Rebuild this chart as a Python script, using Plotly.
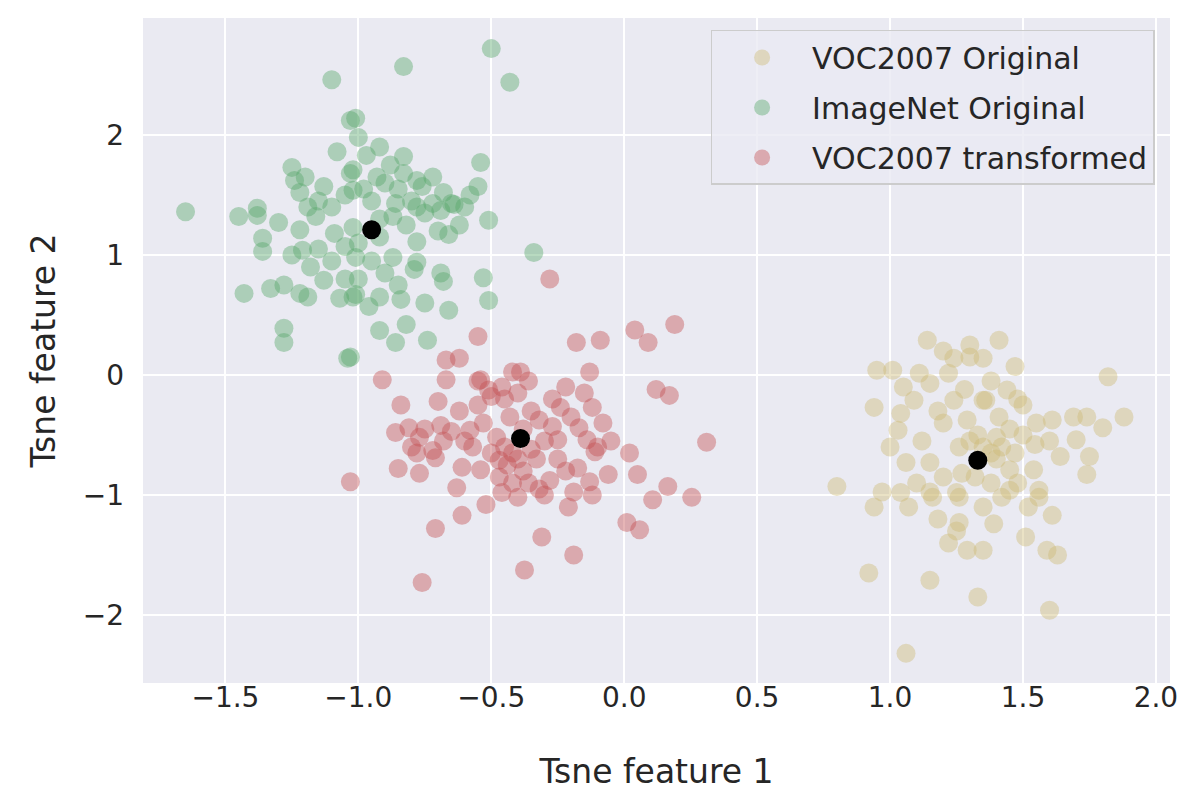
import plotly.graph_objects as go

# ---- data ----
voc_orig_x = [1.14, 0.95, 1.01, 0.94, 1.11, 1.24, 1.30, 1.22, 1.15, 1.09, 1.24, 1.35, 1.04, 1.20, 1.29, 1.03, 1.06, 1.15, 1.26, 1.27,
              0.80, 0.97, 1.04, 1.15, 1.25, 1.41, 1.47, 1.35, 1.82, 1.44, 1.36, 1.41, 1.61, 1.69, 1.74, 1.80, 1.88, 1.40, 1.545, 1.70,
              1.64, 1.75, 1.74, 1.45, 1.54, 1.45, 1.56, 0.94, 1.07, 1.16, 1.26, 1.26, 1.22, 1.29, 1.35, 0.92, 1.15, 1.33, 1.06,
              1.42, 1.56, 1.61, 1.39, 1.51, 1.59, 1.63, 1.60,
              1.35, 1.38, 1.40, 1.33, 1.30, 1.45, 1.50, 1.42, 1.47, 1.32, 1.38, 1.20, 1.12, 1.18, 1.28, 1.38, 1.50, 1.55, 1.60,
              1.48, 1.35, 1.10, 1.00, 1.48, 1.52, 1.25, 1.18, 1.30, 1.20, 1.05]
voc_orig_y = [0.29, 0.04, 0.04, -0.27, 0.015, 0.14, 0.15, 0.015, -0.07, -0.21, -0.21, -0.21, -0.32, -0.40, -0.375, -0.46, -0.73, -0.73, -0.60, -0.82,
              -0.93, -0.975, -0.98, -0.975, -0.98, 0.29, 0.07, 0.14, -0.015, -0.125, -0.21, -0.35, -0.375, -0.35, -0.35, -0.44, -0.35, -0.52, -0.58, -0.54,
              -0.68, -0.68, -0.83, -0.79, -0.79, -0.96, -0.96, -1.10, -1.10, -1.02, -1.02, -1.23, -1.40, -1.46, -1.46, -1.65, -1.71, -1.85, -2.32,
              -1.02, -1.02, -1.17, -1.24, -1.35, -1.46, -1.50, -1.96,
              -0.60, -0.65, -0.70, -0.50, -0.55, -0.45, -0.50, -0.60, -0.65, -0.85, -0.90, -0.85, -0.55, -0.30, -0.12, -0.05, -0.25, -0.40, -0.55,
              -0.90, -1.10, -0.90, -0.60, -0.20, -1.10, -1.30, -1.20, 0.25, 0.20, -0.10]

imagenet_x = [-1.65, -1.45, -1.38, -1.30, -1.36, -1.36, -1.22, -1.19, -1.16, -1.21, -1.09, -1.05, -1.02,
              -1.43, -1.33, -1.28, -1.22, -1.19, -1.13, -1.07, -1.02, -1.28, -1.28, -1.04,
              -1.10, -1.03, -1.08, -1.25, -1.24, -1.22, -1.13, -1.03, -1.02, -1.38,
              -0.83, -0.50, -0.43, -0.54, -0.55, -1.01, -1.00, -0.92, -0.97, -0.83, -0.93, -0.78, -0.76, -0.68, -1.02, -0.83,
              -0.86, -0.72, -0.65,
              -0.87, -0.78, -0.69, -0.64, -0.51, -0.66, -0.78, -0.87, -0.78, -0.79, -0.69, -0.68, -1.01, -1.01, -0.92, -0.84,
              -0.96, -0.66, -0.53, -0.51, -0.34, -0.92, -0.82, -0.86, -0.74, -1.03,
              -1.20, -1.15, -1.10, -1.05, -0.98, -0.95, -0.92, -0.90, -0.88, -0.85, -0.82, -0.80, -0.75, -0.72, -0.70, -0.60,
              -0.58, -0.62, -1.15, -1.10, -1.00, -0.95, -0.90, -0.85, -0.75, -0.92, -1.05, -1.18, -1.25, -1.00]
imagenet_y = [1.36, 1.32, 1.33, 1.27, 1.14, 1.03, 1.21, 1.40, 1.32, 1.04, 1.18, 1.07, 1.23,
              0.68, 0.72, 0.75, 0.68, 0.65, 0.79, 0.64, 0.65, 0.39, 0.27, 0.14,
              2.46, 2.12, 1.86, 1.73, 1.62, 1.52, 1.57, 1.68, 1.54, 1.39,
              2.57, 2.72, 2.44, 1.77, 1.57, 2.14, 1.98, 1.90, 1.83, 1.82, 1.65, 1.62, 1.57, 1.52, 1.71, 1.68,
              1.43, 1.43, 1.43,
              1.32, 1.40, 1.37, 1.42, 1.29, 1.17, 1.11, 0.98, 0.94, 0.88, 0.85, 0.78, 0.98, 0.67, 0.65, 0.63,
              0.57, 0.54, 0.81, 0.62, 1.02, 0.37, 0.42, 0.27, 0.29, 0.15,
              1.65, 1.45, 1.40, 1.50, 1.55, 1.45, 1.30, 1.60, 1.75, 1.55, 1.25, 1.45, 1.35, 1.65, 1.20, 1.40,
              1.50, 1.25, 1.05, 0.95, 1.10, 0.95, 0.85, 0.75, 0.60, 1.15, 0.80, 0.90, 1.00, 0.80]

voc_trans_x = [-0.28, -0.55, -0.67, -0.62, -0.91, -0.84, -0.67, -0.54, -0.51, -0.46, -0.42, -0.50, -0.86, -0.81, -0.77, -0.69, -0.65, -0.58, -0.53, -0.48,
               -0.80, -0.72, -0.18, -0.09, 0.04, 0.09, 0.19, -0.13, -0.39, -0.22, 0.17, -0.12, -0.24, -0.32, -0.27, -0.17, -0.14, -0.10, -0.25, 0.31,
               0.05, 0.164, 0.107, 0.254, 0.01, 0.058, -0.31, -0.19, -0.175, -0.11, -0.13, -0.06, -0.19, -0.21, -0.375,
               -1.03, -0.85, -0.77, -0.71, -0.78, -0.61, -0.63, -0.61, -0.71, -0.76, -0.54, -0.47, -0.40,
               -0.45, -0.42, -0.40, -0.44, -0.38, -0.35, -0.30, -0.33, -0.36, -0.32, -0.28, -0.42, -0.47, -0.50, -0.57, -0.60,
               -0.38, -0.43, -0.35, -0.27, -0.20, -0.15, -0.08, -0.05, 0.02, -0.45, -0.40, -0.36, -0.55, -0.62, -0.70, -0.75,
               -0.68, -0.52, -0.46, -0.25, -0.22, 0.12, -0.30, -0.12, -0.55]
voc_trans_y = [0.80, 0.32, 0.125, 0.14, -0.04, -0.25, -0.04, -0.04, -0.125, -0.10, 0.025, -0.18, -0.48, -0.44, -0.52, -0.42, -0.47, -0.46, -0.40, -0.52,
               -0.60, -0.63, 0.27, 0.29, 0.375, 0.27, 0.42, 0.025, 0.025, -0.10, -0.17, -0.27, -0.27, -0.375, -0.43, -0.44, -0.54, -0.60, -0.54, -0.56,
               -0.83, -0.93, -1.04, -1.02, -1.23, -1.29, -1.35, -1.50, -0.775, -0.64, -0.89, -0.83, -0.975, -1.10, -1.625,
               -0.89, -0.78, -0.82, -0.69, -0.65, -0.77, -0.94, -1.17, -1.28, -1.73, -0.79, -0.71, -1.02,
               -0.60, -0.65, -0.70, -0.75, -0.80, -0.62, -0.55, -0.70, -0.90, -0.95, -0.88, -0.90, -0.85, -0.65, -0.60, -0.55,
               -0.45, -0.35, -0.30, -0.20, -0.35, -0.15, -0.40, -0.55, -0.65, -0.20, -0.15, -0.05, -0.25, -0.30, -0.22, -0.45,
               -0.55, -1.08, -0.98, -0.70, -0.80, -0.12, -1.00, -1.00, -0.05]

centroid_x = [-0.95, -0.39, 1.33]
centroid_y = [1.21, -0.53, -0.71]

series_names = ["VOC2007 Original", "ImageNet Original", "VOC2007 transformed"]
series_colors = ["#CCB974", "#55A868", "#C44E52"]

x_ticks = [-1.5, -1.0, -0.5, 0.0, 0.5, 1.0, 1.5, 2.0]
y_ticks = [-2, -1, 0, 1, 2]

FONT = "DejaVu Sans"
TXT = "#262626"

fig = go.Figure()
for i, (xs, ys) in enumerate([(voc_orig_x, voc_orig_y), (imagenet_x, imagenet_y), (voc_trans_x, voc_trans_y)]):
    fig.add_trace(go.Scatter(
        x=xs, y=ys, mode="markers", name=series_names[i], legendgroup=f"g{i}",
        marker=dict(size=19, color=series_colors[i], opacity=0.42, line=dict(width=0)),
    ))
fig.add_trace(go.Scatter(
    x=centroid_x, y=centroid_y, mode="markers", showlegend=False,
    marker=dict(size=19, color="black", line=dict(width=0)),
))

fig.update_layout(
    width=1188, height=791,
    margin=dict(l=135, r=26, t=10, b=116, autoexpand=False),
    paper_bgcolor="white", plot_bgcolor="#EAEAF2",
    font=dict(family=FONT, size=28, color=TXT),
    showlegend=True,
    legend=dict(
        x=0.985, y=0.982, xanchor="right", yanchor="top",
        bgcolor="rgba(234,234,242,0.8)", bordercolor="#CCCCCC", borderwidth=1.5,
        font=dict(family=FONT, size=30, color=TXT),
        tracegroupgap=8, itemwidth=90,
    ),
    xaxis=dict(
        range=[-1.81, 2.053], tickvals=x_ticks, tickformat=".1f",
        showgrid=True, gridcolor="white", gridwidth=2, zeroline=False,
        showline=False, ticks="", ticklabelstandoff=-5, automargin=False,
        tickfont=dict(family=FONT, size=28, color=TXT),
        title=dict(text="Tsne feature 1", font=dict(family=FONT, size=33, color=TXT), standoff=46),
    ),
    yaxis=dict(
        range=[-2.567, 2.975], tickvals=y_ticks, tickformat="d",
        showgrid=True, gridcolor="white", gridwidth=2, zeroline=False,
        showline=False, ticks="", ticklabelstandoff=18, automargin=False,
        tickfont=dict(family=FONT, size=28, color=TXT),
        title=dict(text="Tsne feature 2", font=dict(family=FONT, size=33, color=TXT), standoff=17),
    ),
)

fig.write_html("out.html")
